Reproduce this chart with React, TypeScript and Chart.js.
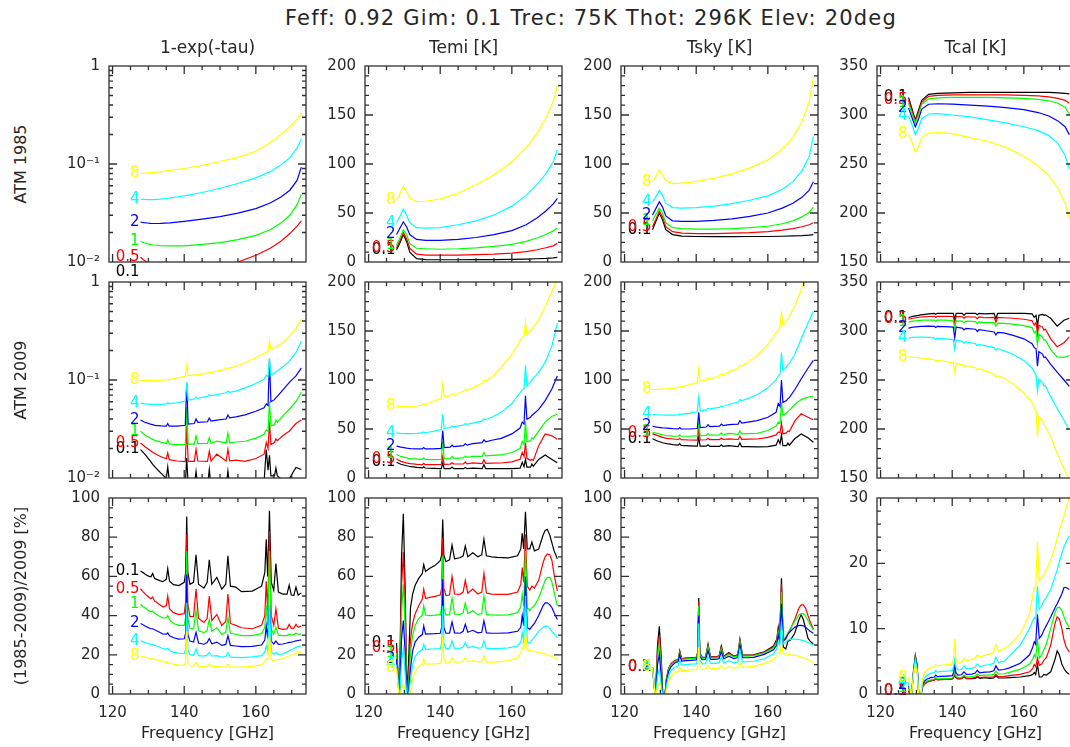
import React, { useEffect, useRef } from "react";
import { Chart, registerables } from "chart.js";

Chart.register(...registerables);

const FONT = "'DejaVu Sans', sans-serif";
const TEXT = "#262626";

const TITLE = "Feff: 0.92 Gim: 0.1 Trec: 75K Thot: 296K Elev: 20deg";
const COLUMN_TITLES = ["1-exp(-tau)", "Temi [K]", "Tsky [K]", "Tcal [K]"];
const ROW_TITLES = ["ATM 1985", "ATM 2009", "(1985-2009)/2009 [%]"];
const X_TITLE = "Frequency [GHz]";

const PWV_LABELS = ["0.1", "0.5", "1", "2", "4", "8"];
const PWV_COLORS = ["#000000", "#ff0000", "#00ff00", "#0000ff", "#00ffff", "#ffff00"];

const X_MIN = 119;
const X_MAX = 174;
const X_MAJOR = [120, 140, 160];
const X_MINOR_STEP = 5;

// ---------- ATM 1985 (row 1) ----------
const FREQ_1985 = [127.8, 128.8, 129.7, 130.6, 131.5, 133.4, 136, 140, 145, 150, 155, 160, 164, 167, 169.5, 171.5, 172.7];

const TAU_1985 = [
  [0.0078, 0.0068, 0.0062, 0.0057, 0.0054, 0.005, 0.0047, 0.0045, 0.0045, 0.0046, 0.0049, 0.0054, 0.006, 0.0066, 0.0073, 0.008, 0.0086],
  [0.0112, 0.0104, 0.0099, 0.0095, 0.0093, 0.0089, 0.0086, 0.0085, 0.0086, 0.0091, 0.01, 0.0117, 0.0138, 0.0163, 0.0195, 0.0232, 0.0263],
  [0.0162, 0.0157, 0.0153, 0.0151, 0.0149, 0.0147, 0.0146, 0.0146, 0.0151, 0.0158, 0.0169, 0.0187, 0.0213, 0.025, 0.03, 0.0385, 0.049],
  [0.0256, 0.0252, 0.025, 0.0248, 0.0247, 0.0248, 0.0251, 0.026, 0.0274, 0.0291, 0.0315, 0.0351, 0.04, 0.046, 0.054, 0.068, 0.093],
  [0.0437, 0.0435, 0.0434, 0.0434, 0.0434, 0.0438, 0.045, 0.0472, 0.0512, 0.0566, 0.0632, 0.0722, 0.0835, 0.098, 0.116, 0.145, 0.18],
  [0.08, 0.0805, 0.081, 0.0815, 0.082, 0.083, 0.086, 0.09, 0.097, 0.106, 0.117, 0.135, 0.165, 0.2, 0.24, 0.285, 0.33],
];

const TEMI_1985 = [
  [12.5, 20, 28, 21, 10, 3.5, 2.5, 2.3, 2.3, 2.4, 2.5, 2.7, 3, 3.3, 3.7, 4.2, 4.8],
  [14.5, 22, 30, 24, 14, 8, 7, 7, 7, 7.5, 8, 9, 10.5, 12.5, 14.5, 16.5, 19],
  [17, 25, 33, 28, 19, 14, 13.5, 13, 13.5, 14.5, 16, 18, 21, 24.5, 28, 31.5, 35],
  [28, 35, 41, 36, 28, 23, 22, 22, 23, 25, 28, 32, 38, 45, 52, 59, 65],
  [40, 47, 54, 48, 40, 35, 34.5, 35, 38, 42, 48, 57, 68, 79, 90, 102, 114],
  [63, 70, 77, 72, 65, 61.5, 62, 64.5, 70, 79, 89, 102, 117, 131, 147, 163, 180],
];

const TSKY_1985 = [
  [33, 42, 50, 43, 33, 28, 26.5, 26, 25.8, 25.8, 26, 26, 26.3, 26.6, 27, 27.5, 28],
  [36, 44, 52, 46, 36, 31, 29.5, 29, 29, 29.5, 30, 31, 32.5, 34, 36, 38, 40],
  [42, 49, 55, 50, 40, 35, 34, 33.5, 33.5, 34, 35, 36.5, 39, 42, 46, 50.5, 56],
  [48, 55, 61.5, 56, 47, 42, 41.5, 41.5, 42.5, 44, 46.5, 50, 55, 60, 66, 73, 82],
  [61, 67, 73, 68, 60, 55.5, 55, 55.5, 57, 59.5, 63, 67.5, 74, 82, 93, 107, 128],
  [82, 88, 94, 89, 83, 80, 80.5, 82, 85.5, 90, 96, 104, 115, 127, 143, 163, 188],
];

const TCAL_1985 = [
  [318, 306, 295, 305, 315, 321, 322, 322.5, 323, 323, 323, 323, 323, 323, 322.5, 322, 321.5],
  [315, 304, 294, 303, 313, 319, 320, 320.5, 320.5, 320.5, 320.5, 320, 319.5, 318.5, 317, 315, 312],
  [312, 301, 292, 300, 311, 316.5, 317.5, 318, 318, 318, 317.5, 317, 316, 314.5, 312, 308, 301],
  [307, 297, 288, 296, 306, 311, 311.5, 311, 310, 309, 307.5, 305.5, 302.5, 299, 294, 288, 280],
  [299, 290, 280, 287, 296, 301, 301.5, 300, 298, 295, 292, 288, 284, 279, 271, 259, 245],
  [280, 272, 262, 268, 277, 281.5, 282, 281, 277, 273, 267, 258, 248, 238, 225, 210, 195],
];

// ---------- ATM 2009 (row 2) ----------
const FREQ_2009 = [127.8, 129.0, 130.6, 131.2, 131.8, 133.5, 135.0, 135.4, 135.8, 138.0, 140.3, 140.7, 141.1, 142.8, 143.3, 143.8, 146.5, 147.0, 147.5, 149.1, 151.7, 152.2, 152.7, 154.4, 157, 160, 162.3, 162.9, 163.4, 163.8, 164.2, 165.2, 165.6, 166.0, 167.5, 169.3, 171.2, 172.7];

const TAU_2009 = [
  [0.0195, 0.0175, 0.0148, 0.0138, 0.013, 0.0112, 0.0099, 0.013, 0.0097, 0.0088, 0.0085, 0.016, 0.0085, 0.0083, 0.0117, 0.0083, 0.0082, 0.0122, 0.0082, 0.0092, 0.0082, 0.0118, 0.0082, 0.0083, 0.0081, 0.0083, 0.0092, 0.0195, 0.012, 0.017, 0.0105, 0.0105, 0.0126, 0.0105, 0.0095, 0.0098, 0.0128, 0.0122],
  [0.0228, 0.021, 0.019, 0.0183, 0.0178, 0.0165, 0.0157, 0.018, 0.0154, 0.0149, 0.0147, 0.034, 0.0148, 0.0148, 0.0196, 0.0149, 0.0148, 0.0188, 0.0149, 0.0175, 0.0149, 0.0196, 0.015, 0.0152, 0.0148, 0.0158, 0.0175, 0.023, 0.02, 0.037, 0.022, 0.023, 0.025, 0.024, 0.027, 0.03, 0.036, 0.039],
  [0.03, 0.0275, 0.0255, 0.0248, 0.0242, 0.0232, 0.0225, 0.0245, 0.0223, 0.0219, 0.022, 0.053, 0.0222, 0.0222, 0.0268, 0.0224, 0.0225, 0.0258, 0.0226, 0.0238, 0.0228, 0.0288, 0.0229, 0.0233, 0.0237, 0.0255, 0.028, 0.031, 0.03, 0.06, 0.034, 0.035, 0.039, 0.037, 0.043, 0.05, 0.06, 0.075],
  [0.039, 0.037, 0.0355, 0.035, 0.0345, 0.034, 0.0338, 0.036, 0.0338, 0.0338, 0.0345, 0.093, 0.0355, 0.036, 0.04, 0.037, 0.0375, 0.041, 0.038, 0.039, 0.04, 0.044, 0.041, 0.042, 0.044, 0.048, 0.052, 0.057, 0.055, 0.165, 0.06, 0.063, 0.066, 0.068, 0.079, 0.094, 0.11, 0.133],
  [0.058, 0.057, 0.0565, 0.0565, 0.0565, 0.0565, 0.057, 0.059, 0.0575, 0.0585, 0.061, 0.094, 0.0625, 0.064, 0.067, 0.065, 0.068, 0.071, 0.069, 0.071, 0.074, 0.077, 0.075, 0.077, 0.083, 0.092, 0.102, 0.112, 0.108, 0.164, 0.112, 0.118, 0.122, 0.124, 0.136, 0.155, 0.19, 0.25],
  [0.099, 0.099, 0.099, 0.099, 0.099, 0.0995, 0.1005, 0.101, 0.1012, 0.105, 0.109, 0.14, 0.111, 0.112, 0.114, 0.113, 0.118, 0.121, 0.1195, 0.123, 0.13, 0.133, 0.132, 0.138, 0.15, 0.17, 0.186, 0.192, 0.195, 0.249, 0.205, 0.213, 0.218, 0.222, 0.24, 0.275, 0.335, 0.42],
];

const TEMI_2009 = [
  [16, 14, 12.5, 12, 11.6, 10.8, 10.3, 11.5, 10.2, 9.8, 9.5, 15.5, 9.5, 9.5, 11.2, 9.5, 9.5, 10.8, 9.5, 10, 9.5, 13.6, 9.5, 9.6, 9.5, 9.5, 10, 16, 11.5, 19, 11, 11, 14.3, 12, 19, 23.5, 19, 15.5],
  [19.4, 17, 15.5, 15, 14.6, 14, 13.7, 15, 13.6, 13.6, 13.8, 22, 14, 14.2, 15.5, 14.3, 14.4, 16.5, 14.5, 15.5, 14.7, 18.5, 15, 15.2, 15.3, 16.5, 19, 26, 22, 36, 20, 18, 19, 18, 33, 45, 43, 39.5],
  [24, 22, 20.5, 20, 19.7, 19.3, 19, 20.5, 19, 18.8, 19, 37.5, 19.5, 19.8, 22, 20, 20.5, 22.5, 21, 22, 22, 26, 22.5, 23, 23.5, 26, 30, 37.5, 34, 58, 37, 38, 41, 40, 48, 57, 63, 65],
  [32.5, 31.5, 30.5, 30.2, 30, 29.8, 29.7, 31, 29.7, 29.7, 30.2, 48.5, 31, 31.5, 33.5, 32, 33, 35, 33.5, 35, 36, 39, 37, 38.5, 40.5, 45, 51, 57, 55, 84, 60, 62, 64, 65, 70, 79, 91, 104],
  [46, 45.5, 45.3, 45.2, 45.2, 45.5, 46, 47, 46.2, 47.5, 49.5, 65, 50.5, 51.5, 53, 52.5, 54, 55.5, 54.8, 56, 58, 60.5, 59.5, 62, 67, 76, 87, 90, 91, 115, 94, 98, 100, 101.5, 108, 118, 135, 158],
  [73.3, 73, 72.6, 72.5, 72.5, 73.5, 74.5, 76, 75, 78, 81.5, 95.5, 83, 84, 86, 85, 88.5, 91, 89.5, 92, 97, 100, 99, 103, 113, 126, 140, 143, 145, 159, 146, 150, 152, 154, 162, 175, 190, 205],
];

const TSKY_2009 = [
  [40, 38, 36, 35.5, 35, 34, 33.5, 35, 33.2, 32.8, 32.5, 41.5, 32.5, 32.5, 33.8, 32.3, 32.3, 33.8, 32.3, 33, 32, 35.8, 32, 32, 31.8, 32, 33.5, 39, 35, 44, 33, 33, 35.5, 33.5, 40, 45, 41, 36.5],
  [45.3, 43.5, 41.5, 41, 40.5, 39.8, 39.3, 40.5, 39.2, 38.8, 38.6, 50, 38.8, 39, 40.5, 39.2, 39.2, 40.8, 39.3, 40, 39.3, 42.6, 39.5, 39.6, 39.8, 41.5, 44, 47, 46, 56, 45, 46, 48, 47.5, 58, 65.5, 62, 59.5],
  [46.7, 45.5, 44, 43.6, 43.3, 42.8, 42.6, 44, 42.6, 42.6, 43, 58, 43.3, 43.5, 45.5, 43.7, 44, 46, 44.2, 45.5, 44.5, 48, 45, 45.3, 45.5, 48.5, 53, 57, 56, 77, 64, 66, 68, 69, 75, 80, 82.5, 83],
  [52.8, 52, 51.2, 51, 50.8, 50.3, 50, 51.5, 50, 50, 50.5, 67, 51.5, 52, 54.5, 52.5, 53, 55, 53.5, 54.5, 55, 58.6, 56, 57, 58.5, 62, 67, 76, 73, 100, 77, 79, 81, 82, 90, 101, 112, 120],
  [64.7, 64.5, 64.3, 64.2, 64.2, 64.2, 64.5, 65.5, 65, 66, 67.5, 82.5, 68.5, 69.5, 71, 70.5, 72, 73.5, 73, 75, 77.5, 80, 79, 81, 85, 92, 100, 104, 106, 128, 110, 113, 116, 117, 126, 142, 158, 170],
  [90.3, 90.5, 90.7, 90.8, 90.8, 91.5, 92.5, 93.5, 93, 95, 97.5, 111.5, 98.5, 100, 102, 101, 104, 106, 105, 108, 112, 115, 114, 118, 125, 136, 148, 151, 153, 170, 156, 160, 163, 165, 175, 192, 215, 230],
];

const TCAL_2009 = [
  [313.5, 315, 316, 316.5, 316.8, 317.5, 318, 317, 318, 318, 318, 311.5, 318, 318, 316, 318, 318, 316.5, 318, 317.5, 318, 312.5, 318, 318, 318, 318, 317.5, 314, 316, 305, 316, 317, 316, 316.5, 313, 305, 311, 313],
  [312, 313, 314, 314.3, 314.5, 314.8, 315, 314, 315, 315, 314.8, 308, 314.8, 314.5, 313, 314.5, 314.3, 312.5, 314.3, 313.5, 314, 309, 313.8, 313.5, 313, 312, 310.5, 306, 308.5, 297, 306, 304, 301, 302, 292, 284, 288, 294],
  [309, 310, 310.6, 310.8, 311, 311, 311, 310, 311, 311, 310.5, 303, 310.3, 310, 308.5, 310, 309.5, 307.5, 309.3, 308.5, 308.5, 305, 308, 307.8, 307, 305.5, 303.5, 298, 300, 286, 297, 294, 291, 291, 281, 273.5, 273, 275],
  [303, 304, 304.5, 304.7, 304.8, 305, 304.8, 303.5, 304.7, 304.5, 304, 293, 303.8, 303, 301, 302.6, 301.8, 299.5, 301.4, 300.5, 299, 296, 298.5, 298, 295.5, 292, 287, 283, 282, 264, 279, 276.5, 273, 273.5, 266, 258, 250, 243.5],
  [293, 293.5, 293.8, 293.8, 293.8, 293.5, 293, 291.5, 292.8, 292, 291.2, 281, 290.8, 289.5, 287.5, 288.8, 287, 285, 286.3, 285, 283, 280.5, 282, 280, 276, 270, 262, 258, 255, 238.5, 251, 247, 244, 244, 233, 221, 209, 199],
  [273.5, 273.2, 272.7, 272.5, 272.2, 271.5, 270.5, 269.3, 270, 269, 267.5, 258, 267, 265.5, 263.5, 265, 262.5, 260, 261.5, 259.5, 256, 253, 254.5, 252, 246, 237, 227, 222, 219, 192, 213, 208, 204, 203, 192, 175, 160, 148],
];

// ---------- (1985-2009)/2009 [%] (row 3) ----------
const FREQ_RATIO = [127.8, 128.6, 129.2, 129.7, 130.2, 130.7, 131.2, 131.7, 132.3, 133.0, 134.0, 135.0, 135.4, 135.9, 137.0, 138.5, 140.0, 140.4, 140.7, 141.0, 141.6, 142.6, 143.3, 144.0, 145.5, 146.4, 147.0, 147.7, 149.1, 150.5, 151.6, 152.2, 152.9, 154.4, 156.0, 159.0, 161.6, 162.5, 162.9, 163.3, 163.8, 164.3, 165.0, 165.6, 166.3, 167.5, 168.7, 169.3, 169.9, 170.6, 171.2, 171.8, 172.7];

const RATIO_TAU = [
  [62.7, 61.8, 61, 60.5, 60, 59.8, 61.5, 59, 58.5, 58, 57.3, 58.5, 64, 57.5, 55.8, 55.3, 57, 62, 90.5, 62, 56, 57, 71, 56, 54, 57, 68.5, 56, 59.5, 53.5, 56, 70.5, 55, 54.5, 52.2, 52.5, 55, 62, 79, 60, 93.5, 57, 53, 66.5, 52, 51, 51, 55.5, 50.5, 50.3, 54.5, 50.5, 51.5],
  [53.7, 52, 50.8, 50, 49.2, 48.6, 49.5, 47.5, 46.8, 45.8, 44.5, 45, 50, 43.5, 41.5, 40.5, 41, 47, 81.5, 46, 39.5, 39.5, 53.5, 38.5, 36.5, 38.5, 50, 37.5, 40.5, 35, 37, 51, 36, 35, 33.8, 33.3, 35, 40, 57.5, 42, 83, 40, 35, 43.5, 33.5, 33, 33.2, 35.5, 33.5, 33.6, 35.5, 34, 34.7],
  [45.8, 44.5, 43.7, 43, 42.4, 41.9, 42.3, 41.2, 40.6, 39.8, 38.8, 39, 40, 37.8, 36, 35, 35, 39, 73, 38.5, 33.5, 33.2, 42.5, 32.3, 31.3, 32.6, 38, 32, 33.8, 30.4, 31.5, 39, 31, 30.5, 29.8, 29.8, 30.8, 34, 45.3, 35, 73, 33, 30.5, 34, 30, 29.8, 29.8, 30.5, 30, 30.3, 31, 30.5, 30.5],
  [36, 35.2, 34.6, 34.1, 33.7, 33.3, 33.3, 32.8, 32.3, 31.6, 30.6, 30.5, 31.2, 29.7, 28.7, 28, 28.2, 31, 61, 30.5, 27, 26.5, 31.5, 26, 25.4, 26.2, 28.3, 25.6, 26.5, 24.8, 25.3, 29.7, 24.8, 24.5, 24.2, 24.3, 25, 27.5, 34.7, 28.5, 45, 27, 25.5, 27, 25.3, 25.5, 26, 26.3, 26.5, 26.8, 27.1, 27.3, 27.6],
  [27.1, 26.6, 26.2, 25.9, 25.6, 25.3, 25.2, 24.9, 24.5, 24, 23.2, 22.8, 23.3, 22.2, 21.4, 20.8, 20.6, 23, 46.5, 22.5, 20.2, 19.8, 23, 19.6, 19.3, 19.8, 21.2, 19.4, 19.6, 18.8, 19.1, 21.2, 18.8, 18.7, 18.6, 18.9, 19.6, 21.5, 24.6, 22, 45, 21.5, 20.2, 21.2, 20.2, 20.5, 21.5, 22, 22.6, 23.2, 23.8, 24.2, 24.6],
  [19.5, 19.1, 18.8, 18.5, 18.3, 18.1, 17.9, 17.7, 17.4, 17, 16.5, 16.1, 16.5, 15.7, 15.2, 14.8, 14.6, 16.5, 32, 16, 14.4, 14.2, 16, 14.1, 13.9, 14.3, 15.3, 14, 14.1, 13.7, 13.9, 15.3, 13.7, 13.7, 13.7, 14.1, 15, 16.5, 17.8, 17.5, 30, 17.5, 17, 17.6, 17.5, 18, 19, 19.5, 19.9, 20.3, 20.7, 21, 21.2],
];

const RATIO_TEMI = [
  [26, -3, 70, 92, 55, -2, 18, 44, 51, 55.5, 59, 61.5, 66, 62.5, 64, 65.5, 68, 71, 89, 71, 67.5, 68.5, 76, 69, 69.5, 70.5, 75.5, 70, 72, 70, 71, 79, 70.5, 70, 69.7, 69.5, 70.5, 74, 82, 74, 93, 74, 74, 77.5, 73, 74, 81, 83.5, 84, 81, 77, 73, 69],
  [23.5, -3, 55, 72.5, 45, -2, 10, 28, 36, 41, 45, 48.5, 53.5, 48.7, 49.3, 49.8, 50.5, 54, 80, 54, 50.2, 50.5, 60, 51, 50.8, 52, 58, 51.5, 53.5, 51, 52, 61.5, 51.5, 51, 50.8, 50.8, 52, 56, 64.5, 57, 81.5, 55, 53, 55, 54, 58, 67, 70, 71.5, 71, 68, 61, 52.5],
  [21, -3, 42, 56, 35, -2, 5, 21, 30, 35, 38.5, 40.2, 45, 40.3, 40, 40.2, 40.5, 44, 70.5, 44, 40.3, 40.5, 49, 40.8, 40.5, 41.5, 46.5, 41, 42.5, 40.5, 41, 50, 40.6, 40.3, 40.2, 40.4, 41.5, 44.5, 51, 45, 73, 44, 42.5, 44, 45, 49, 55, 58, 59.5, 59.5, 57, 52, 45],
  [17.8, -3, 28, 37.5, 22, -2, 2, 13, 22, 26.5, 29, 30.3, 34.7, 30.6, 30.7, 30.8, 31, 34, 58.5, 34, 31, 31, 36.8, 31.2, 31, 32, 35.6, 31.5, 32.5, 31.2, 31.5, 37.3, 31.2, 31, 31, 31.2, 32, 34, 40, 35, 60, 34, 33, 34.5, 36, 40, 45, 46.5, 46.5, 45.5, 44, 41.5, 38],
  [15, -3, 16, 23, 11, -2, 0, 7, 15, 19, 21.5, 22.5, 25.4, 22.8, 22.9, 23, 23.2, 26, 45, 26, 23.2, 23.3, 27.1, 23.4, 23.3, 24, 26.3, 23.6, 24.3, 23.4, 23.6, 27.1, 23.3, 23.2, 23.2, 23.5, 24.5, 26.5, 31.4, 27, 50, 26.5, 26, 27.5, 29, 32, 34, 34.7, 34.5, 33.5, 32, 30.5, 28.8],
  [13, -3, 3, 5, 2, -2, -2, 1, 8, 11.5, 14, 15, 17.8, 15.2, 15.3, 15.4, 15.6, 18, 29.7, 18, 15.8, 16, 18.6, 16.2, 16.2, 16.8, 18.6, 16.4, 17, 16.4, 16.5, 19.5, 16.3, 16.3, 16.4, 17, 18.5, 21, 23.7, 22.5, 31.4, 22.5, 22, 22, 21.7, 21.2, 20.7, 20.4, 20, 19.5, 19, 18.5, 17.8],
];

const RATIO_TSKY = [
  [13.5, -2, 25, 34.5, 20, -2, -2, 8, 13, 15.5, 17, 17.7, 22, 18, 18.3, 18.5, 18.6, 21, 49, 21, 18.7, 18.8, 25.4, 18.9, 18.9, 19.5, 24.5, 19.2, 21.2, 19.3, 20, 28, 19.8, 19.8, 20, 21.5, 24.5, 28, 34, 28, 59, 24, 23, 27, 27.5, 31, 38, 40.5, 38, 33, 28.5, 27, 25.5],
  [13.5, -2, 22, 30, 17, -2, -2, 8, 13, 15.5, 17, 17.7, 21.5, 18, 18.2, 18.4, 18.5, 21, 47, 21, 18.6, 18.7, 24.5, 18.8, 18.8, 19.3, 23.5, 19, 20.8, 19.2, 19.8, 27, 19.7, 19.7, 19.9, 21.3, 24, 27, 32.5, 28, 56, 27, 28, 31, 33, 38, 44, 45.5, 45.5, 43.5, 40, 37, 33],
  [13.5, -2, 19, 26, 14, -2, -2, 7.5, 12.5, 15, 16.5, 17.3, 21, 17.5, 17.8, 18, 18.1, 20.5, 45, 20.5, 18.2, 18.3, 24, 18.4, 18.4, 18.9, 23, 18.6, 20.3, 18.8, 19.4, 26.5, 19.3, 19.3, 19.5, 21, 23.5, 26.5, 31.5, 28, 52, 28, 29, 31, 33.5, 37, 40.5, 41, 41, 39.5, 37.5, 35.5, 32.5],
  [13.5, -2, 15, 20.3, 10, -2, -2, 6.5, 11.5, 14, 15.8, 16.6, 20, 16.8, 17, 17.2, 17.4, 19.5, 40, 19.5, 17.5, 17.6, 22, 17.7, 17.7, 18.1, 21.5, 17.9, 19.3, 18, 18.6, 25, 18.5, 18.5, 18.7, 20.2, 22.5, 25, 30, 27, 46, 27, 28.5, 30.5, 32, 34, 35, 35, 34.8, 34, 33, 32, 31],
  [13.5, -2, 9, 12.5, 5, -2, -2, 4.5, 9.5, 12, 13.7, 14.5, 17.5, 14.7, 15, 15.2, 15.3, 17.3, 36, 17.3, 15.4, 15.5, 19, 15.6, 15.6, 16, 19, 15.8, 17, 15.9, 16.4, 22.5, 16.4, 16.5, 16.7, 18, 20.5, 23, 26.5, 25, 37, 25.5, 26.5, 27.5, 28, 28, 27.8, 27.5, 27.2, 26.8, 26.3, 25.8, 25],
  [13.5, -2, 4, 6, 1, -2, -2, 2, 6.5, 9, 10.8, 11.6, 13.5, 11.8, 12.1, 12.3, 12.5, 14, 24, 14, 12.6, 12.7, 14.5, 12.8, 12.9, 13.2, 14.5, 13, 13.8, 13.2, 13.5, 16, 13.6, 13.8, 14.1, 15.5, 17.5, 19.5, 21, 20.5, 25, 20.5, 20.3, 20.2, 20, 19.8, 19.2, 18.9, 18.5, 18, 17.5, 17, 16],
];

const RATIO_TCAL = [
  [0.5, -0.5, 3.5, 5.9, 4.5, -0.5, -0.5, 1.2, 1.7, 1.9, 2.05, 2.15, 2.4, 2.2, 2.25, 2.28, 2.3, 2.5, 3.05, 2.5, 2.32, 2.33, 2.6, 2.35, 2.35, 2.4, 2.6, 2.4, 2.5, 2.4, 2.45, 2.8, 2.45, 2.45, 2.5, 2.6, 2.8, 3.0, 3.3, 3.0, 4.5, 2.6, 2.6, 3.0, 2.9, 3.4, 5.3, 6.6, 6.0, 4.6, 3.9, 3.4, 3.0],
  [0.5, -0.5, 3.5, 5.8, 4.4, -0.5, -0.5, 1.0, 1.5, 1.8, 2.0, 2.1, 2.3, 2.15, 2.2, 2.25, 2.3, 2.6, 3.3, 2.6, 2.35, 2.38, 2.7, 2.4, 2.42, 2.5, 2.75, 2.5, 2.6, 2.55, 2.62, 3.0, 2.65, 2.7, 2.8, 3.0, 3.4, 3.9, 4.5, 4.2, 5.5, 4.4, 4.6, 5.2, 5.6, 7.5, 10.8, 11.8, 11.5, 10, 8.3, 7.2, 6.4],
  [0.9, -0.5, 3.5, 5.7, 4.3, -0.5, -0.5, 1.2, 1.7, 2.0, 2.15, 2.25, 2.5, 2.3, 2.35, 2.4, 2.45, 2.8, 3.6, 2.8, 2.5, 2.55, 2.9, 2.6, 2.65, 2.75, 3.05, 2.8, 2.9, 2.9, 3.0, 3.5, 3.05, 3.1, 3.3, 3.8, 4.6, 5.4, 6.0, 5.6, 8.5, 5.5, 6.0, 6.8, 7.7, 10, 12.5, 13.2, 13.3, 12.8, 11.8, 11, 10.2],
  [1.3, -0.5, 3.3, 5.5, 4.1, -0.5, -0.5, 1.4, 2.0, 2.3, 2.5, 2.6, 2.9, 2.65, 2.7, 2.75, 2.8, 3.3, 4.6, 3.3, 2.9, 2.95, 3.4, 3.0, 3.05, 3.2, 3.6, 3.25, 3.35, 3.4, 3.55, 4.3, 3.65, 3.75, 4.0, 4.7, 6.0, 7.2, 8.0, 7.6, 12.2, 8.5, 9.0, 9.8, 10.5, 11.8, 13.2, 13.8, 14.5, 15.3, 16.3, 16.3, 16.0],
  [1.8, -0.5, 3.2, 5.3, 3.9, -0.5, -0.5, 1.8, 2.5, 2.9, 3.15, 3.3, 3.6, 3.35, 3.45, 3.5, 3.6, 4.2, 5.3, 4.2, 3.7, 3.75, 4.3, 3.85, 3.95, 4.1, 4.6, 4.2, 4.4, 4.5, 4.7, 5.6, 4.85, 5.0, 5.8, 7.5, 10, 11.2, 11.7, 11.5, 16.5, 13, 13.5, 14.3, 14.8, 16, 18, 19, 20.2, 21.5, 22.5, 23.3, 24.2],
  [2.5, -0.5, 3, 4.5, 3.3, -0.5, -0.5, 2.3, 3.2, 3.7, 4.0, 4.2, 4.5, 4.3, 4.4, 4.5, 4.6, 5.5, 8.4, 5.5, 4.8, 4.9, 5.4, 5.1, 5.3, 5.5, 6.0, 5.7, 5.9, 6.1, 6.4, 7.6, 6.6, 6.9, 7.5, 9.2, 12.3, 15, 16.3, 16, 23.3, 17.3, 17.8, 18.3, 19, 20.5, 22.5, 23.8, 25, 26.3, 27.2, 28.5, 30],
];

// ---------- layout ----------
const COL_LEFT = [109, 365, 621, 877];
const ROW_TOP = [66, 282, 498];
const PLOT_W = 197;
const PLOT_H = 196;
const AXIS_W = 70;
const PAD_V = 22;
const PAD_R = 10;
const X_AXIS_H = 60;

type YAxis = {
  log: boolean;
  min: number;
  max: number;
  major: number[];
  minor: number[];
  fmt: (v: number) => string;
};

function steps(min: number, max: number, step: number): number[] {
  const out: number[] = [];
  for (let v = min; v <= max + 1e-9; v += step) out.push(Math.round(v * 1000) / 1000);
  return out;
}

const LOG_MINOR: number[] = [];
[0.01, 0.1].forEach((d) => {
  for (let k = 2; k <= 9; k++) LOG_MINOR.push(d * k);
});

const Y_TAU: YAxis = {
  log: true,
  min: 0.01,
  max: 1,
  major: [0.01, 0.1, 1],
  minor: LOG_MINOR,
  fmt: (v) => (Math.abs(v - 1) < 1e-9 ? "1" : Math.abs(v - 0.1) < 1e-9 ? "10\u207B\u00B9" : "10\u207B\u00B2"),
};
const Y_TEMP: YAxis = { log: false, min: 0, max: 200, major: steps(0, 200, 50), minor: steps(0, 200, 10), fmt: (v) => String(v) };
const Y_TCAL: YAxis = { log: false, min: 150, max: 350, major: steps(150, 350, 50), minor: steps(150, 350, 10), fmt: (v) => String(v) };
const Y_PCT: YAxis = { log: false, min: 0, max: 100, major: steps(0, 100, 20), minor: steps(0, 100, 5), fmt: (v) => String(v) };
const Y_PCT_CAL: YAxis = { log: false, min: 0, max: 30, major: steps(0, 30, 10), minor: steps(0, 30, 2), fmt: (v) => String(v) };

type PanelDef = { row: number; col: number; freq: number[]; series: number[][]; y: YAxis };

const PANELS: PanelDef[] = [
  { row: 0, col: 0, freq: FREQ_1985, series: TAU_1985, y: Y_TAU },
  { row: 0, col: 1, freq: FREQ_1985, series: TEMI_1985, y: Y_TEMP },
  { row: 0, col: 2, freq: FREQ_1985, series: TSKY_1985, y: Y_TEMP },
  { row: 0, col: 3, freq: FREQ_1985, series: TCAL_1985, y: Y_TCAL },
  { row: 1, col: 0, freq: FREQ_2009, series: TAU_2009, y: Y_TAU },
  { row: 1, col: 1, freq: FREQ_2009, series: TEMI_2009, y: Y_TEMP },
  { row: 1, col: 2, freq: FREQ_2009, series: TSKY_2009, y: Y_TEMP },
  { row: 1, col: 3, freq: FREQ_2009, series: TCAL_2009, y: Y_TCAL },
  { row: 2, col: 0, freq: FREQ_RATIO, series: RATIO_TAU, y: Y_PCT },
  { row: 2, col: 1, freq: FREQ_RATIO, series: RATIO_TEMI, y: Y_PCT },
  { row: 2, col: 2, freq: FREQ_RATIO, series: RATIO_TSKY, y: Y_PCT },
  { row: 2, col: 3, freq: FREQ_RATIO, series: RATIO_TCAL, y: Y_PCT_CAL },
];

const X_MINOR = steps(120, 170, X_MINOR_STEP);

function PanelChart({ def }: { def: PanelDef }) {
  const ref = useRef<HTMLCanvasElement | null>(null);
  const bottom = def.row === 2;
  const w = AXIS_W + PLOT_W + PAD_R;
  const h = PAD_V + PLOT_H + (bottom ? X_AXIS_H : PAD_V);

  useEffect(() => {
    const canvas = ref.current;
    if (!canvas) return;
    const y = def.y;

    const framePlugin = {
      id: "frameTicks",
      afterDraw(chart: any) {
        const { ctx, chartArea: a } = chart;
        const xs = chart.scales.x;
        const ys = chart.scales.y;
        ctx.save();
        ctx.strokeStyle = "#303030";
        ctx.lineWidth = 1.3;
        ctx.beginPath();
        const xt = (v: number, len: number) => {
          const p = xs.getPixelForValue(v);
          if (p < a.left + 1 || p > a.right - 1) return;
          ctx.moveTo(p, a.bottom);
          ctx.lineTo(p, a.bottom - len);
          ctx.moveTo(p, a.top);
          ctx.lineTo(p, a.top + len);
        };
        const yt = (v: number, len: number) => {
          const p = ys.getPixelForValue(v);
          if (p < a.top + 1 || p > a.bottom - 1) return;
          ctx.moveTo(a.left, p);
          ctx.lineTo(a.left + len, p);
          ctx.moveTo(a.right, p);
          ctx.lineTo(a.right - len, p);
        };
        X_MINOR.forEach((v) => xt(v, 4));
        X_MAJOR.forEach((v) => xt(v, 8));
        y.minor.forEach((v) => yt(v, 4));
        y.major.forEach((v) => yt(v, 8));
        ctx.stroke();
        ctx.strokeRect(a.left, a.top, a.right - a.left, a.bottom - a.top);
        ctx.restore();
      },
    };

    const labelPlugin = {
      id: "curveLabels",
      afterDatasetsDraw(chart: any) {
        const { ctx } = chart;
        const xs = chart.scales.x;
        const ys = chart.scales.y;
        ctx.save();
        ctx.font = `15px ${FONT}`;
        ctx.textAlign = "right";
        ctx.textBaseline = "middle";
        def.series.forEach((vals, i) => {
          const px = xs.getPixelForValue(def.freq[0]);
          const py = ys.getPixelForValue(vals[0]);
          ctx.fillStyle = PWV_COLORS[i];
          ctx.fillText(PWV_LABELS[i], px - 1, py);
        });
        ctx.restore();
      },
    };

    const datasets = def.series.map((vals, i) => ({
      label: PWV_LABELS[i],
      data: def.freq.map((f, k) => ({ x: f, y: vals[k] })),
      borderColor: PWV_COLORS[i],
      backgroundColor: PWV_COLORS[i],
      borderWidth: 1.2,
      pointRadius: 0,
      tension: 0,
      fill: false,
      order: 5 - i,
    }));

    const xScale: any = {
      type: "linear",
      min: X_MIN,
      max: X_MAX,
      display: bottom,
      grid: { display: false, drawTicks: false },
      border: { display: false },
      ticks: {
        autoSkip: false,
        maxRotation: 0,
        padding: 10,
        color: TEXT,
        font: { family: FONT, size: 15 },
        callback: (v: any) => String(v),
      },
      title: {
        display: true,
        text: X_TITLE,
        color: TEXT,
        font: { family: FONT, size: 16 },
        padding: { top: 0, bottom: 11 },
      },
      afterBuildTicks: (s: any) => {
        s.ticks = X_MAJOR.map((v) => ({ value: v }));
      },
    };
    if (bottom) {
      xScale.afterFit = (s: any) => {
        s.height = X_AXIS_H;
      };
    }

    const chart = new Chart(canvas, {
      type: "line",
      data: { datasets },
      options: {
        animation: false,
        responsive: false,
        devicePixelRatio: 1,
        events: [],
        layout: { padding: { top: PAD_V, right: PAD_R, bottom: bottom ? 0 : PAD_V, left: 0 } },
        plugins: { legend: { display: false }, tooltip: { enabled: false }, title: { display: false } },
        scales: {
          x: xScale,
          y: {
            type: y.log ? "logarithmic" : "linear",
            min: y.min,
            max: y.max,
            grid: { display: false, drawTicks: false },
            border: { display: false },
            ticks: {
              autoSkip: false,
              padding: 9,
              color: TEXT,
              font: { family: FONT, size: 15 },
              callback: (v: any) => y.fmt(Number(v)),
            },
            afterBuildTicks: (s: any) => {
              s.ticks = y.major.map((v) => ({ value: v }));
            },
            afterFit: (s: any) => {
              s.width = AXIS_W;
            },
          },
        },
      } as any,
      plugins: [framePlugin, labelPlugin],
    });
    return () => chart.destroy();
  }, []);

  return (
    <canvas
      ref={ref}
      width={w}
      height={h}
      style={{
        position: "absolute",
        left: COL_LEFT[def.col] - AXIS_W,
        top: ROW_TOP[def.row] - PAD_V,
        width: w,
        height: h,
      }}
    />
  );
}

export default function App() {
  const textBase: React.CSSProperties = {
    position: "absolute",
    fontFamily: FONT,
    color: TEXT,
    whiteSpace: "nowrap",
    lineHeight: 1,
  };
  return (
    <div
      style={{
        position: "fixed",
        left: 0,
        top: 0,
        width: 1070,
        height: 747,
        overflow: "hidden",
        background: "#ffffff",
      }}
    >
      {PANELS.map((p) => (
        <PanelChart key={`${p.row}-${p.col}`} def={p} />
      ))}
      <div style={{ ...textBase, left: 591, top: 18, fontSize: 21, letterSpacing: 1.2, transform: "translate(-50%, -50%)" }}>
        {TITLE}
      </div>
      {COLUMN_TITLES.map((t, i) => (
        <div
          key={t}
          style={{ ...textBase, left: COL_LEFT[i] + PLOT_W / 2, top: 47, fontSize: 17, transform: "translate(-50%, -50%)" }}
        >
          {t}
        </div>
      ))}
      {ROW_TITLES.map((t, i) => (
        <div
          key={t}
          style={{
            ...textBase,
            left: 21,
            top: ROW_TOP[i] + PLOT_H / 2,
            fontSize: 16,
            transform: "translate(-50%, -50%) rotate(-90deg)",
          }}
        >
          {t}
        </div>
      ))}
    </div>
  );
}
